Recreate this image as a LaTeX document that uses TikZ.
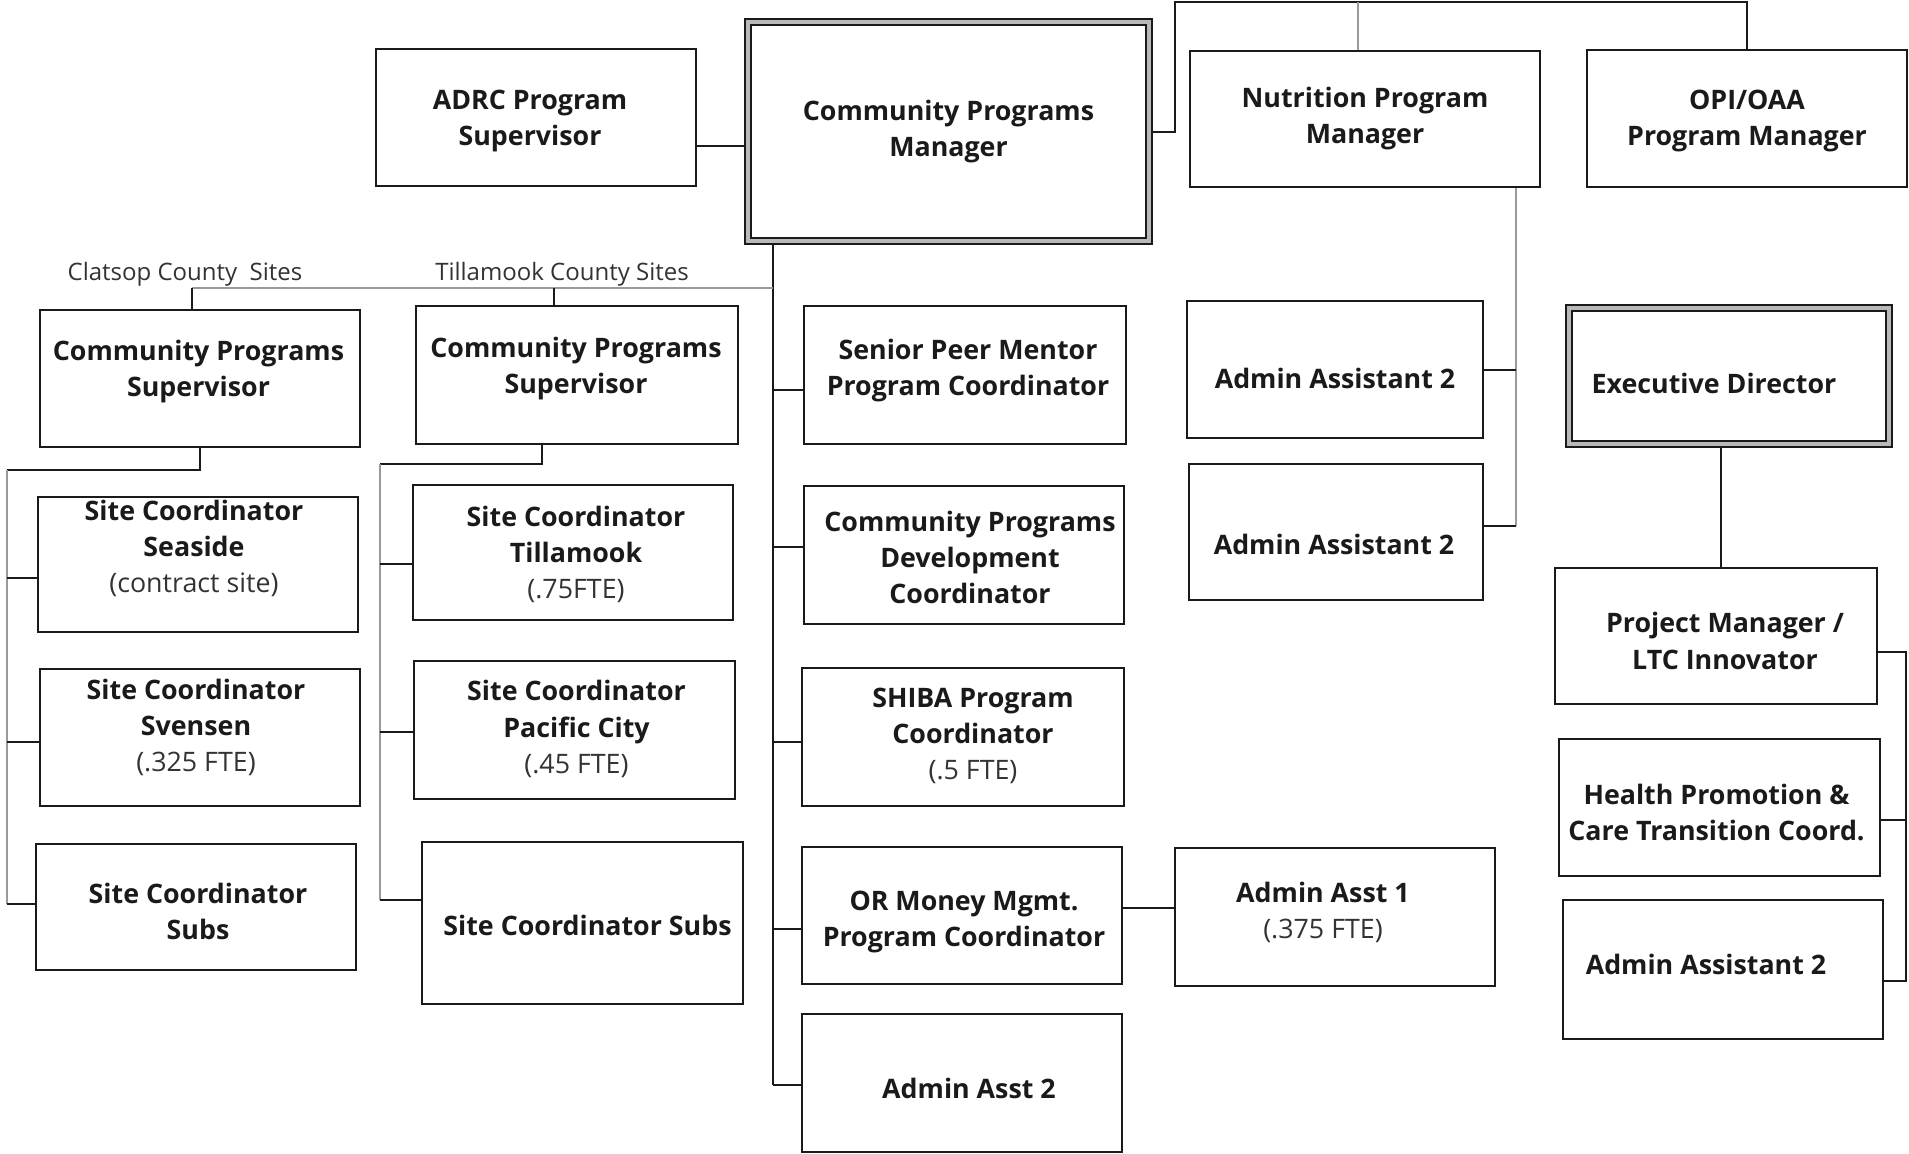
\documentclass[tikz,border=0pt]{standalone}
\usepackage{fontspec}
\setmainfont{Open Sans}
\usetikzlibrary{calc}
\definecolor{ink}{HTML}{1A1A1A}
\definecolor{soft}{HTML}{333333}
\definecolor{wire}{HTML}{9A9A9A}
\pgfdeclarelayer{wires}
\pgfsetlayers{wires,main}
\tikzset{
  box/.style={draw=ink, line width=1pt, fill=white, inner sep=0pt},
  wh/.style 2 args={minimum width=#1*0.5pt, minimum height=#2*0.5pt},
  heavy/.style={draw=ink, line width=1pt, double=gray!55, double distance=2pt, fill=white, inner sep=0pt},
  lbl/.style={font=\fontsize{13.4}{18}\selectfont\bfseries, align=center, text=ink, inner sep=0pt,
    execute at begin node=\strut, execute at end node=\strut, yshift=-2.6pt},
  note/.style={font=\fontsize{12}{16}\selectfont, text=soft, inner sep=0pt},
  conn/.style={draw=ink, line width=1pt},
  faint/.style={draw=wire, line width=1pt},
}
\newcommand\fteline[1]{{\mdseries\color{soft}#1}}
\begin{document}
\begin{tikzpicture}[x=0.5pt,y=-0.5pt]
\useasboundingbox (0,0) rectangle (1909,1153);

% top row
\node[box,wh={320}{137}] (adrc) at (536,117.5) {};
\node[lbl] (adrc-t) at ($(adrc)+(-6,0)$) {ADRC Program\\Supervisor};
\node[heavy,wh={401}{219}] (cpm) at (948.5,131.5) {};
\node[lbl] (cpm-t) at ($(cpm)+(0,-3)$) {Community Programs\\Manager};
\node[box,wh={350}{136}] (nut) at (1365,119) {};
\node[lbl] (nut-t) at ($(nut)+(0,-3)$) {Nutrition Program\\Manager};
\node[box,wh={320}{137}] (opi) at (1747,118.5) {};
\node[lbl] (opi-t) at ($(opi)+(0,-1)$) {OPI/OAA\\Program Manager};

% nutrition staff
\node[box,wh={296}{137}] (aa2a) at (1335,369.5) {};
\node[lbl] (aa2a-t) at ($(aa2a)+(0,6.5)$) {Admin Assistant 2};
\node[box,wh={294}{136}] (aa2b) at (1336,532) {};
\node[lbl] (aa2b-t) at ($(aa2b)+(-2,10)$) {Admin Assistant 2};

% executive director branch
\node[heavy,wh={320}{136}] (ed) at (1729,376) {};
\node[lbl] (ed-t) at ($(ed)+(-15,5)$) {Executive Director};
\node[box,wh={322}{136}] (pm) at (1716,636) {};
\node[lbl] (pm-t) at ($(pm)+(9,5)$) {Project Manager /\\LTC Innovator};
\node[box,wh={321}{137}] (hp) at (1719.5,807.5) {};
\node[lbl] (hp-t) at ($(hp)+(-3,5)$) {Health Promotion \&\\Care Transition Coord.};
\node[box,wh={320}{139}] (aa2c) at (1723,969.5) {};
\node[lbl] (aa2c-t) at ($(aa2c)+(-17,-7.5)$) {Admin Assistant 2};

% Clatsop County
\node[box,wh={320}{137}] (cps1) at (200,378.5) {};
\node[lbl] (cps1-t) at ($(cps1)+(-1.5,-10)$) {Community Programs\\Supervisor};
\node[box,wh={320}{135}] (seaside) at (198,564.5) {};
\node[lbl] (seaside-t) at ($(seaside)+(-4,-18)$) {Site Coordinator\\Seaside\\\fteline{(contract site)}};
\node[box,wh={320}{137}] (svensen) at (200,737.5) {};
\node[lbl] (svensen-t) at ($(svensen)+(-4,-12)$) {Site Coordinator\\Svensen\\\fteline{(.325 FTE)}};
\node[box,wh={320}{126}] (subs1) at (196,907) {};
\node[lbl] (subs1-t) at ($(subs1)+(2,4)$) {Site Coordinator\\Subs};

% Tillamook County
\node[box,wh={322}{138}] (cps2) at (577,375) {};
\node[lbl] (cps2-t) at ($(cps2)+(-1,-9)$) {Community Programs\\Supervisor};
\node[box,wh={320}{135}] (till) at (573,552.5) {};
\node[lbl] (till-t) at ($(till)+(3,0)$) {Site Coordinator\\Tillamook\\\fteline{(.75FTE)}};
\node[box,wh={321}{138}] (pac) at (574.5,730) {};
\node[lbl] (pac-t) at ($(pac)+(2,-3)$) {Site Coordinator\\Pacific City\\\fteline{(.45 FTE)}};
\node[box,wh={321}{162}] (subs2) at (582.5,923) {};
\node[lbl] (subs2-t) at ($(subs2)+(5,0)$) {Site Coordinator Subs};

% staff reporting directly to the manager
\node[box,wh={322}{138}] (spm) at (965,375) {};
\node[lbl] (spm-t) at ($(spm)+(3,-7.5)$) {Senior Peer Mentor\\Program Coordinator};
\node[box,wh={320}{138}] (dev) at (964,555) {};
\node[lbl] (dev-t) at ($(dev)+(6,3)$) {Community Programs\\Development\\Coordinator};
\node[box,wh={322}{138}] (shiba) at (963,737) {};
\node[lbl] (shiba-t) at ($(shiba)+(10,-3.5)$) {SHIBA Program\\Coordinator\\\fteline{(.5 FTE)}};
\node[box,wh={320}{137}] (orm) at (962,915.5) {};
\node[lbl] (orm-t) at ($(orm)+(2,3)$) {OR Money Mgmt.\\Program Coordinator};
\node[box,wh={320}{138}] (aa2m) at (962,1083) {};
\node[lbl] (aa2m-t) at ($(aa2m)+(7,3)$) {Admin Asst 2};
\node[box,wh={320}{138}] (aa1) at (1335,917) {};
\node[lbl] (aa1-t) at ($(aa1)+(-12,-7)$) {Admin Asst 1\\\fteline{(.375 FTE)}};

% county headings
\node[note] (clatsop) at (185,274) {Clatsop County\ \ Sites};
\node[note] (tillamook) at (562,274) {Tillamook County Sites};

\begin{pgfonlayer}{wires}
  % top
  \draw[conn] (adrc.east |- 0,146) -- (cpm.west |- 0,146);
  \coordinate (topl) at (1175,2);
  \draw[conn] (cpm.east) -| (topl) -| (opi.north);
  \draw[faint] (nut.north -| 1358,0) -- (1358,2);
  % nutrition staff
  \draw[faint] (nut.south -| 1516,0) -- (1516,526);
  \draw[conn] (aa2a.east) -- (aa2a.east -| 1516,0);
  \draw[conn] (aa2b.east |- 0,526) -- (1516,526);
  % executive director
  \draw[conn] (ed.south -| 1721,0) -- (pm.north -| 1721,0);
  \coordinate (rb) at (1906,652);
  \draw[conn] (pm.east |- rb) -- (rb) -- (rb |- 0,981) -- (aa2c.east |- 0,981);
  \draw[conn] (hp.east |- 0,820) -- (1906,820);
  % manager spine
  \coordinate (spine) at (773,0);
  \draw[conn] (cpm.south -| spine) -- (spine |- 0,1084.5);
  \draw[conn] (spine |- 0,390) -- (spm.west |- 0,390);
  \draw[conn] (spine |- 0,547) -- (dev.west |- 0,547);
  \draw[conn] (spine |- 0,742) -- (shiba.west |- 0,742);
  \draw[conn] (spine |- 0,929) -- (orm.west |- 0,929);
  \draw[conn] (spine |- 0,1084.5) -- (aa2m.west |- 0,1084.5);
  \draw[conn] (orm.east |- 0,908) -- (aa1.west |- 0,908);
  % county supervisors
  \draw[faint] (192,288) -- (spine |- 0,288);
  \draw[conn] (192,288) -- (cps1.north -| 192,0);
  \draw[conn] (554,288) -- (cps2.north -| 554,0);
  % Clatsop sites
  \draw[conn] (cps1.south) |- (7,470);
  \draw[faint] (7,470) -- (7,904);
  \draw[conn] (7,578) -- (seaside.west |- 0,578);
  \draw[conn] (7,742) -- (svensen.west |- 0,742);
  \draw[conn] (7,904) -- (subs1.west |- 0,904);
  % Tillamook sites
  \draw[conn] (cps2.south -| 542,0) |- (380,464);
  \draw[faint] (380,464) -- (380,900);
  \draw[conn] (380,564) -- (till.west |- 0,564);
  \draw[conn] (380,732) -- (pac.west |- 0,732);
  \draw[conn] (380,900) -- (subs2.west |- 0,900);
\end{pgfonlayer}
\end{tikzpicture}
\end{document}
